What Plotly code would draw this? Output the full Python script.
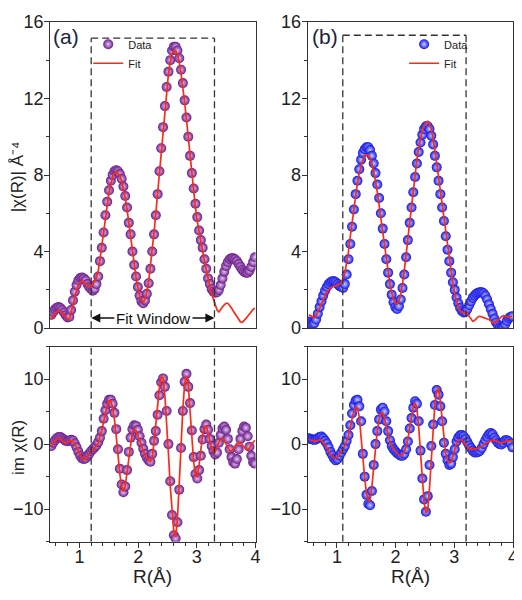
import plotly.graph_objects as go

# ---------------- data ----------------
R = [0.522, 0.553, 0.583, 0.614, 0.645, 0.675, 0.706, 0.737, 0.767, 0.798,
     0.829, 0.859, 0.890, 0.921, 0.951, 0.982, 1.013, 1.044, 1.074, 1.105,
     1.136, 1.166, 1.197, 1.228, 1.258, 1.289, 1.320, 1.350, 1.381, 1.412,
     1.442, 1.473, 1.504, 1.535, 1.565, 1.596, 1.627, 1.657, 1.688, 1.719,
     1.749, 1.780, 1.811, 1.841, 1.872, 1.903, 1.933, 1.964, 1.995, 2.025,
     2.056, 2.087, 2.117, 2.148, 2.179, 2.209, 2.240, 2.271, 2.301, 2.332,
     2.363, 2.393, 2.424, 2.455, 2.485, 2.516, 2.547, 2.577, 2.608, 2.639,
     2.669, 2.700, 2.731, 2.762, 2.792, 2.823, 2.854, 2.884, 2.915, 2.946,
     2.976, 3.007, 3.038, 3.068, 3.099, 3.130, 3.160, 3.191, 3.222, 3.252,
     3.283, 3.314, 3.344, 3.375, 3.406, 3.436, 3.467, 3.498, 3.528, 3.559,
     3.590, 3.620, 3.651, 3.682, 3.712, 3.743, 3.774, 3.804, 3.835, 3.866,
     3.896, 3.927, 3.958, 3.989]

mag_a_data = [0.70, 0.85, 0.98, 1.07, 1.10, 1.05, 0.95, 0.82, 0.68, 0.56,
              0.60, 0.95, 1.45, 1.90, 2.25, 2.50, 2.62, 2.65, 2.60, 2.50,
              2.30, 2.15, 2.05, 1.95, 2.05, 2.30, 2.70, 3.50, 4.20, 5.00,
              5.90, 6.60, 7.20, 7.70, 8.00, 8.20, 8.25, 8.20, 8.05, 7.80,
              7.40, 6.90, 6.30, 5.50, 4.90, 4.00, 3.30, 2.70, 2.15, 1.70,
              1.40, 1.30, 1.45, 1.80, 2.35, 3.10, 4.00, 4.90, 5.90, 7.00,
              8.20, 9.40, 10.50, 11.60, 12.60, 13.40, 14.00, 14.50, 14.70, 14.70,
              14.50, 14.10, 13.50, 12.80, 11.90, 11.00, 10.00, 9.00, 8.10, 7.30,
              6.50, 5.80, 5.10, 4.60, 4.20, 3.60, 3.10, 2.60, 2.30, 2.05,
              1.90, 1.85, 1.88, 2.00, 2.25, 2.60, 2.95, 3.25, 3.45, 3.60,
              3.65, 3.65, 3.60, 3.50, 3.35, 3.20, 3.05, 2.95, 2.90, 2.90,
              3.00, 3.20, 3.45, 3.70]

mag_a_fit = [0.45, 0.60, 0.75, 0.85, 0.90, 0.88, 0.80, 0.68, 0.55, 0.45,
             0.50, 0.80, 1.20, 1.65, 2.00, 2.25, 2.40, 2.45, 2.40, 2.30,
             2.20, 2.15, 2.20, 2.30, 2.45, 2.65, 3.00, 3.60, 4.30, 5.00,
             5.80, 6.50, 7.10, 7.55, 7.90, 8.10, 8.15, 8.10, 7.95, 7.70,
             7.30, 6.80, 6.20, 5.45, 4.80, 4.00, 3.30, 2.65, 2.15, 1.70,
             1.45, 1.35, 1.50, 1.85, 2.45, 3.20, 4.10, 5.00, 6.00, 7.10,
             8.20, 9.30, 10.40, 11.50, 12.50, 13.30, 13.90, 14.30, 14.50, 14.50,
             14.30, 13.90, 13.30, 12.60, 11.80, 10.90, 9.90, 8.90, 8.00, 7.10,
             6.30, 5.60, 5.00, 4.50, 4.00, 3.50, 3.00, 2.55, 2.15, 1.80,
             1.50, 1.20, 0.95, 0.85, 0.95, 1.10, 1.22, 1.30, 1.30, 1.20,
             1.05, 0.90, 0.75, 0.55, 0.40, 0.32, 0.30, 0.38, 0.50, 0.62,
             0.75, 0.88, 0.98, 1.04]

mag_b_data = [0.35, 0.25, 0.20, 0.25, 0.45, 0.75, 1.10, 1.40, 1.70, 1.95,
              2.15, 2.30, 2.40, 2.45, 2.45, 2.40, 2.30, 2.20, 2.15, 2.10,
              2.30, 2.80, 3.60, 4.40, 5.30, 6.20, 7.00, 7.70, 8.30, 8.80,
              9.15, 9.35, 9.45, 9.45, 9.30, 9.00, 8.60, 8.10, 7.50, 6.80,
              6.00, 5.20, 4.40, 3.60, 2.90, 2.30, 1.75, 1.35, 1.10, 1.00,
              1.15, 1.50, 2.10, 2.80, 3.70, 4.60, 5.50, 6.30, 7.10, 7.90,
              8.60, 9.20, 9.70, 10.10, 10.40, 10.55, 10.55, 10.40, 10.05, 9.60,
              9.00, 8.40, 7.70, 7.00, 6.30, 5.60, 4.80, 4.10, 3.50, 2.90,
              2.40, 2.00, 1.60, 1.30, 1.05, 0.90, 0.82, 0.85, 1.00, 1.20,
              1.40, 1.58, 1.70, 1.80, 1.85, 1.87, 1.87, 1.82, 1.70, 1.50,
              1.25, 1.00, 0.75, 0.50, 0.30, 0.15, 0.05, 0.02, 0.05, 0.20,
              0.38, 0.52, 0.60, 0.62]

mag_b_fit = [0.70, 0.65, 0.58, 0.55, 0.65, 0.85, 1.10, 1.35, 1.55, 1.75,
             1.90, 2.00, 2.10, 2.15, 2.20, 2.20, 2.25, 2.30, 2.40, 2.60,
             2.90, 3.40, 4.00, 4.80, 5.50, 6.30, 7.00, 7.60, 8.10, 8.50,
             8.80, 9.00, 9.05, 9.05, 8.90, 8.60, 8.20, 7.70, 7.10, 6.40,
             5.70, 4.90, 4.20, 3.50, 2.90, 2.30, 1.85, 1.50, 1.30, 1.25,
             1.40, 1.75, 2.30, 3.00, 3.80, 4.70, 5.60, 6.50, 7.30, 8.10,
             8.80, 9.40, 9.90, 10.30, 10.60, 10.75, 10.80, 10.70, 10.40, 9.90,
             9.30, 8.60, 7.90, 7.20, 6.50, 5.70, 4.90, 4.20, 3.50, 2.90,
             2.30, 1.80, 1.40, 1.10, 0.90, 0.82, 0.80, 0.82, 0.75, 0.60,
             0.45, 0.36, 0.40, 0.52, 0.60, 0.62, 0.60, 0.55, 0.52, 0.50,
             0.45, 0.38, 0.30, 0.28, 0.32, 0.42, 0.52, 0.60, 0.65, 0.62,
             0.58, 0.58, 0.60, 0.62]

im_a_data = [-0.30, 0.20, 0.60, 0.90, 1.10, 1.10, 0.90, 0.70, 0.50, 0.45,
             0.55, 0.65, 0.55, 0.10, -0.50, -1.20, -1.80, -2.20, -2.30, -2.20,
             -1.80, -1.50, -1.10, -0.80, -0.50, -0.20, 0.30, 1.00, 2.00, 3.90,
             5.20, 6.20, 6.80, 6.80, 6.20, 4.80, 2.30, -0.80, -3.80, -6.20,
             -7.40, -6.50, -4.00, -1.20, 1.00, 2.30, 2.90, 2.80, 2.20, 1.20,
             0.20, -0.70, -1.50, -2.10, -2.50, -2.70, -1.50, 0.50, 2.00, 4.50,
             7.50, 9.50, 10.10, 8.80, 5.10, 0.00, -5.70, -10.90, -14.00, -14.50,
             -12.00, -7.00, -0.60, 5.10, 9.60, 10.80, 8.80, 6.30, 2.10, -2.00,
             -4.60, -5.30, -4.00, -1.80, 0.70, 2.30, 3.00, 2.20, 0.80, -0.30,
             -1.10, -1.60, -1.30, 0.20, 1.40, 2.40, 2.70, 2.20, 0.80, -0.80,
             -2.00, -2.80, -3.00, -2.30, -0.80, 0.80, 2.00, 2.70, 2.50, 1.20,
             -0.40, -1.80, -2.80, -3.00]

im_a_fit = [-0.30, 0.10, 0.50, 0.80, 0.90, 0.80, 0.50, 0.25, 0.15, 0.30,
            0.50, 0.55, 0.40, 0.00, -0.60, -1.20, -1.80, -2.20, -2.40, -2.30,
            -1.90, -1.50, -1.20, -0.90, -0.60, -0.30, 0.20, 1.00, 2.10, 3.50,
            4.90, 6.00, 6.70, 6.60, 5.60, 3.80, 1.20, -1.80, -4.60, -6.60,
            -7.30, -6.40, -4.20, -1.60, 0.60, 1.90, 2.30, 2.10, 1.40, 0.50,
            -0.30, -1.00, -1.60, -2.10, -2.50, -2.70, -2.00, 0.30, 3.20, 6.20,
            8.80, 10.30, 10.20, 7.50, 3.50, -1.50, -6.50, -10.80, -13.50, -14.30,
            -11.50, -6.00, 0.00, 5.50, 9.30, 10.50, 9.00, 5.50, 1.00, -2.80,
            -4.80, -5.00, -3.20, -0.60, 1.50, 2.60, 2.80, 1.80, 0.40, -0.70,
            -1.20, -1.10, -0.30, 0.40, 0.80, 0.90, 0.60, 0.00, -0.60, -1.00,
            -1.10, -0.80, -0.30, 0.10, 0.25, 0.20, -0.10, -0.50, -0.80, -0.90,
            -0.60, -0.10, 0.30, 0.60]

im_b_data = [0.90, 0.80, 0.70, 0.65, 0.70, 0.90, 1.10, 1.15, 0.90, 0.50,
             0.10, -0.50, -1.20, -1.70, -2.20, -2.50, -2.30, -1.80, -1.30, -0.80,
             -0.30, 0.50, 1.40, 2.90, 4.70, 6.00, 6.70, 6.80, 5.80, 3.50,
             -1.50, -5.00, -7.80, -9.20, -9.40, -7.20, -3.20, 0.00, 2.00, 3.80,
             5.30, 5.60, 5.00, 3.50, 2.00, 0.60, -0.30, -0.80, -1.10, -1.40,
             -1.60, -1.80, -1.80, -1.50, -0.80, 0.40, 2.40, 4.00, 5.60, 6.60,
             6.20, 3.50, -1.00, -5.30, -8.50, -10.40, -8.00, -3.20, -0.30, 3.00,
             6.00, 8.30, 7.60, 5.80, 3.50, 0.20, -1.50, -2.50, -3.20, -3.00,
             -2.00, -0.80, 0.40, 1.00, 1.35, 1.40, 1.20, 0.80, 0.30, -0.20,
             -0.60, -1.00, -1.30, -1.30, -1.20, -1.00, -0.60, 0.00, 0.60, 1.10,
             1.50, 1.70, 1.50, 1.00, 0.60, 0.20, 0.00, -0.05, 0.20, 0.60,
             0.60, 0.40, 0.10, -0.50]

im_b_fit = [0.70, 0.60, 0.50, 0.45, 0.45, 0.55, 0.65, 0.60, 0.30, -0.10,
            -0.60, -1.10, -1.50, -1.90, -2.10, -2.20, -2.00, -1.60, -1.20, -0.80,
            -0.30, 0.40, 1.30, 2.60, 4.00, 5.10, 5.70, 5.50, 4.20, 1.50,
            -2.00, -5.20, -7.60, -8.70, -8.60, -6.50, -3.20, -0.20, 2.10, 3.80,
            4.70, 4.80, 4.00, 2.70, 1.40, 0.40, -0.30, -0.80, -1.10, -1.40,
            -1.70, -1.80, -1.70, -1.20, -0.40, 0.80, 2.60, 4.40, 5.80, 6.40,
            5.40, 2.60, -1.50, -5.60, -8.90, -10.60, -10.20, -6.80, -2.00, 2.60,
            6.20, 8.30, 8.50, 6.60, 3.60, 0.60, -1.50, -2.50, -2.90, -2.80,
            -1.90, -0.80, 0.10, 0.60, 0.70, 0.60, 0.30, -0.10, -0.50, -0.70,
            -0.80, -0.80, -0.80, -0.70, -0.60, -0.50, -0.40, -0.20, 0.10, 0.30,
            0.40, 0.50, 0.60, 0.60, 0.50, 0.35, 0.20, 0.20, 0.30, 0.45,
            0.50, 0.50, 0.50, 0.55]

window_a = [1.2, 3.3]
window_b = [1.1, 3.2]
window_top_a = 15.15
window_top_b = 15.3
fit_window_y = 0.53
fit_window_text_edges = [1.62, 2.90]

# ---------------- layout helpers ----------------
# The page adds an 8px body margin, so the figure is drawn 8px in from the
# window's top-left corner; positions below are given in window pixels.
OFF = 8
W, H = 522 - OFF, 600 - OFF
def clamp(v):
    return min(1.0, max(0.0, v))
def fx(px):
    return clamp((px - OFF) / W)
def fy(py):
    return clamp(1 - (py - OFF) / H)
def dom_x(a, b):
    return [fx(a), fx(b)]
def dom_y(top, bottom):
    return [fy(bottom), fy(top)]

FONT = "Liberation Sans, Arial, sans-serif"
purple, purple_hi = "#6a1a8a", "#e2c8f0"
blue, blue_hi = "#1414e4", "#c8d0ff"
red = "#ff2a14"
axis_col = "#333333"

fig = go.Figure()

def add_pair(xa, ya, ydata, yfit, col, hi, legend_name):
    show = legend_name is not None
    fig.add_trace(go.Scatter(
        x=R, y=ydata, mode="markers", name="Data", xaxis=xa, yaxis=ya,
        marker=dict(size=10, color=col, gradient=dict(type="radial", color=hi),
                    line=dict(width=0)),
        showlegend=show, legend=legend_name if show else "legend"))
    fig.add_trace(go.Scatter(
        x=R, y=yfit, mode="lines", name="Fit", xaxis=xa, yaxis=ya,
        line=dict(color=red, width=1.7),
        showlegend=show, legend=legend_name if show else "legend"))

add_pair("x", "y", mag_a_data, mag_a_fit, purple, purple_hi, "legend")
add_pair("x2", "y2", mag_b_data, mag_b_fit, blue, blue_hi, "legend2")
add_pair("x3", "y3", im_a_data, im_a_fit, purple, purple_hi, None)
add_pair("x4", "y4", im_b_data, im_b_fit, blue, blue_hi, None)

tickfont = dict(family=FONT, size=18, color="#222")

def xaxis_cfg(domain, anchor, labels):
    cfg = dict(domain=domain, anchor=anchor, range=[0.5, 4], showline=True, mirror=True,
               linecolor=axis_col, linewidth=1, zeroline=False, showgrid=False,
               tickfont=tickfont, tick0=0, dtick=1, ticklabeloverflow="allow")
    if labels:
        cfg.update(ticks="outside", ticklen=5, tickwidth=1, tickcolor=axis_col,
                   ticklabelstandoff=-6,
                   minor=dict(dtick=0.2, ticks="outside", ticklen=3, tickcolor=axis_col))
    else:
        cfg.update(ticks="", showticklabels=False)
    return cfg

def yaxis_cfg(domain, anchor, rng, dtick, mdtick):
    return dict(domain=domain, anchor=anchor, range=rng, showline=True, mirror=True,
                linecolor=axis_col, linewidth=1, zeroline=False, showgrid=False,
                tickfont=tickfont, tick0=0, dtick=dtick, ticks="outside", ticklen=5,
                tickwidth=1, tickcolor=axis_col, ticklabeloverflow="allow",
                ticklabelstandoff=-3,
                minor=dict(dtick=mdtick, ticks="outside", ticklen=3, tickcolor=axis_col))

xl = dom_x(50.5, 258)
xr = dom_x(310.5, 518)
yt = dom_y(12, 329)
yb = dom_y(348, 550)

shapes = []
dash = "7px,4px"
def vline(xref, yref, x, y0, y1):
    shapes.append(dict(type="line", xref=xref, yref=yref, x0=x, x1=x, y0=y0, y1=y1,
                       line=dict(color=axis_col, width=1.3, dash=dash)))
def hline(xref, yref, x0, x1, y):
    shapes.append(dict(type="line", xref=xref, yref=yref, x0=x0, x1=x1, y0=y, y1=y,
                       line=dict(color=axis_col, width=1.3, dash=dash)))

for xv in window_a:
    vline("x", "y", xv, 0, window_top_a)
    vline("x3", "y3", xv, -15, 15)
hline("x", "y", window_a[0], window_a[1], window_top_a)
for xv in window_b:
    vline("x2", "y2", xv, 0, window_top_b)
    vline("x4", "y4", xv, -15, 15)
hline("x2", "y2", window_b[0], window_b[1], window_top_b)

def txt(text, x, y, size, angle=0, color="#222"):
    return dict(text=text, xref="paper", yref="paper", x=fx(x), y=fy(y),
                xanchor="center", yanchor="middle", textangle=angle, showarrow=False,
                font=dict(family=FONT, size=size, color=color))

ann = [
    txt("(a)", 67, 27, 21, color="#1b2340"),
    txt("(b)", 328, 27, 21, color="#1b2340"),
    txt("|χ(R)| Å⁻⁴", 18, 172, 17, angle=-90),
    txt("im χ(R)", 18, 452, 17, angle=-90),
    txt("R(Å)", 154, 586, 19),
    txt("R(Å)", 414, 586, 19),
]
ann.append(dict(text="Fit Window", xref="x", yref="y",
                x=(window_a[0] + window_a[1]) / 2, y=fit_window_y, showarrow=False,
                xanchor="center", yanchor="middle",
                font=dict(family=FONT, size=15, color="#111")))
for tip, tail in zip(window_a, fit_window_text_edges):
    ann.append(dict(text="", xref="x", yref="y", x=tip, y=fit_window_y,
                    axref="x", ayref="y", ax=tail, ay=fit_window_y,
                    showarrow=True, arrowhead=2, arrowsize=1.3, arrowwidth=1.4,
                    arrowcolor="#111"))

legend_common = dict(bgcolor="rgba(0,0,0,0)", borderwidth=0, xanchor="left", yanchor="middle",
                     font=dict(family=FONT, size=11, color="#222"), tracegroupgap=0,
                     itemwidth=30)

fig.update_layout(
    width=W, height=H, margin=dict(l=0, r=0, t=0, b=0),
    paper_bgcolor="white", plot_bgcolor="white",
    xaxis=xaxis_cfg(xl, "y", False),
    xaxis2=xaxis_cfg(xr, "y2", False),
    xaxis3=xaxis_cfg(xl, "y3", True),
    xaxis4=xaxis_cfg(xr, "y4", True),
    yaxis=yaxis_cfg(yt, "x", [0, 16], 4, 2),
    yaxis2=yaxis_cfg(yt, "x2", [0, 16], 4, 2),
    yaxis3=yaxis_cfg(yb, "x3", [-15, 15], 10, 5),
    yaxis4=yaxis_cfg(yb, "x4", [-15, 15], 10, 5),
    legend=dict(x=fx(89), y=fy(45), **legend_common),
    legend2=dict(x=fx(408), y=fy(45), **legend_common),
    shapes=shapes, annotations=ann,
)

fig.write_html("out.html")
